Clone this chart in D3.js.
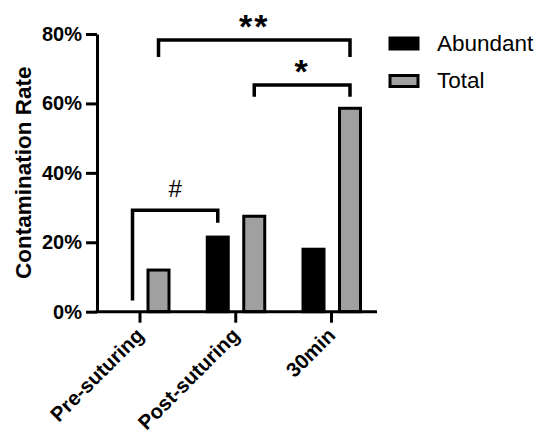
<!DOCTYPE html>
<html>
<head>
<meta charset="utf-8">
<script src="https://cdn.jsdelivr.net/npm/d3@7"></script>
<style>
  body { margin: 0; background: #fff; }
  svg { display: block; font-family: "Liberation Sans", Arial, sans-serif; }
</style>
</head>
<body>
<svg id="chart"></svg>
<script>
// data
const categories = ["Pre-suturing", "Post-suturing", "30min"];
const series = ["Abundant", "Total"];
const abundant = [0, 21.5, 18];
const total = [12, 27.5, 58.6];
const yTicks = [0, 20, 40, 60, 80];

// significance brackets (levels in % units)
const brackets = [
  {from: [0, "Total"], to: [2, "Total"], level: 78.3, leftEnd: 73.4, rightEnd: 73.4, label: "**"},
  {from: [1, "Total"], to: [2, "Total"], level: 65.3, leftEnd: 61.9, rightEnd: 61.9, label: "*"},
  {from: [0, "Abundant"], to: [1, "Abundant"], level: 29.2, leftEnd: 3.2, rightEnd: 25.6, label: "#"}
];

const W = 536, H = 435;
const svg = d3.select("#chart").attr("width", W).attr("height", H);

const x = d3.scalePoint().domain(categories).range([139.5, 331]);
const xOff = d3.scalePoint().domain(series).range([-17.5, 19]);
const y = d3.scaleLinear().domain([0, 80]).range([311.7, 34]);
const barW = 21;
const color = {Abundant: "#000", Total: "#a0a0a0"};

const rows = categories.map((c, i) => ({cat: c, Abundant: abundant[i], Total: total[i]}));

// bars
const g = svg.append("g");
rows.forEach(r => {
  series.forEach(s => {
    if (r[s] <= 0) return;
    g.append("rect")
      .attr("x", x(r.cat) + xOff(s) - barW / 2)
      .attr("y", y(r[s]))
      .attr("width", barW)
      .attr("height", y(0) - y(r[s]))
      .attr("fill", color[s])
      .attr("stroke", "#000")
      .attr("stroke-width", 3);
  });
});

// y axis
const yAxis = svg.append("g")
  .attr("transform", "translate(97,0)")
  .call(d3.axisLeft(y).tickValues(yTicks).tickFormat(d => d + "%").tickSize(11).tickSizeOuter(0));
yAxis.select(".domain").attr("stroke-width", 3);
yAxis.selectAll(".tick line").attr("stroke-width", 3);
yAxis.selectAll(".tick text")
  .attr("x", -15)
  .attr("font-size", 20).attr("font-weight", "bold")
  .attr("font-family", "Liberation Sans, Arial, sans-serif")
  .attr("fill", "#000");

// x axis
const xAxis = svg.append("g")
  .attr("transform", `translate(0,${y(0)})`)
  .call(d3.axisBottom(x).tickSize(11).tickSizeOuter(0));
xAxis.select(".domain").attr("d", "M95.5,0H377").attr("stroke-width", 3);
xAxis.selectAll(".tick line").attr("stroke-width", 3);
xAxis.selectAll(".tick text")
  .attr("font-size", 20.5).attr("font-weight", "bold")
  .attr("font-family", "Liberation Sans, Arial, sans-serif")
  .attr("fill", "#000")
  .attr("text-anchor", "end")
  .attr("dy", null)
  .attr("y", 0)
  .attr("transform", "translate(5,25) rotate(-45)");

// y title
svg.append("text")
  .attr("transform", `translate(31,${(y(0) + y(80)) / 2}) rotate(-90)`)
  .attr("text-anchor", "middle")
  .attr("font-size", 22.5).attr("font-weight", "bold")
  .text("Contamination Rate");

// brackets
const bx = (b) => x(categories[b[0]]) + xOff(b[1]);
brackets.forEach(b => {
  let x1 = bx(b.from), x2 = bx(b.to);
  if (b.label === "#") x1 += 10.5;
  svg.append("path")
    .attr("d", `M${x1},${y(b.leftEnd)}V${y(b.level)}H${x2}V${y(b.rightEnd)}`)
    .attr("fill", "none").attr("stroke", "#000").attr("stroke-width", 3.5);
  const t = svg.append("text")
    .attr("x", (x1 + x2) / 2)
    .attr("text-anchor", "middle")
    .text(b.label);
  if (b.label === "#") {
    t.attr("y", y(b.level) - 13).attr("font-size", 24);
  } else {
    t.attr("y", y(b.level) - 2).attr("font-size", 34).attr("font-weight", "bold")
      .attr("letter-spacing", 2);
  }
});

// legend
const leg = svg.append("g").attr("transform", "translate(389,37)");
series.forEach((s, i) => {
  const row = leg.append("g").attr("transform", `translate(0,${i * 37.5})`);
  row.append("rect")
    .attr("x", 1).attr("y", 1).attr("width", 28).attr("height", 11)
    .attr("fill", color[s]).attr("stroke", "#000").attr("stroke-width", 3);
  row.append("text")
    .attr("x", 48).attr("y", 13.5)
    .attr("font-size", 22.5)
    .text(s);
});
</script>
</body>
</html>
